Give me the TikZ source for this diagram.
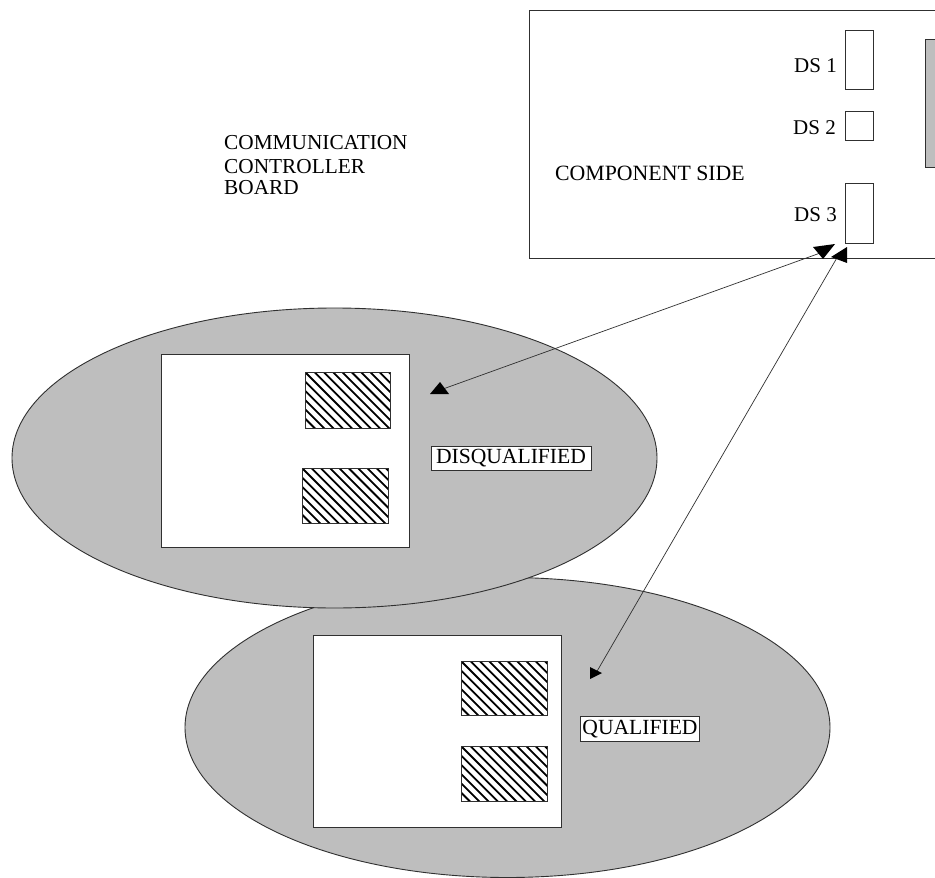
\documentclass[tikz,border=0pt]{standalone}
\usepackage{fontspec}
\setmainfont{Liberation Serif}
\definecolor{blobgray}{HTML}{BEBEBE}
\definecolor{edgegray}{HTML}{303030}
\tikzset{
  outline/.style={draw=edgegray,line width=0.9pt},
  blob/.style={outline,fill=blobgray},
  panel/.style={outline,fill=white},
  hatchline/.style={draw=black,line width=1.8pt},
  label/.style={inner sep=0pt,font=\fontsize{21.5}{21.5}\selectfont,text=black,anchor=base west},
  dslabel/.style={inner sep=0pt,font=\fontsize{21}{21}\selectfont,text=black,anchor=base west},
  boxlabel/.style={draw=edgegray,line width=0.8pt,fill=white,inner xsep=0pt,inner ysep=3pt,font=\fontsize{21.6}{21.6}\selectfont,text=black},
  link/.style={draw=edgegray,line width=0.7pt},
  head/.style={fill=black,draw=none}
}
\newcommand{\hatchbox}[4]{%
  \fill[white] (#1,#2) rectangle (#3,#4);
  \begin{scope}
    \clip (#1,#2) rectangle (#3,#4);
    \foreach \k in {-8,...,16}
      \draw[hatchline] ({#1+\k*9.3},#2) -- ++(70,70);
  \end{scope}
  \draw[outline] (#1,#2) rectangle (#3,#4);
}
\begin{document}
\begin{tikzpicture}[x=1pt,y=-1pt]
\useasboundingbox (0,0) rectangle (935,878);
\clip (0,0) rectangle (935,878);
\fill[white] (0,0) rectangle (935,878);
% board
\draw[outline] (529,10) rectangle (940,258);
\draw[outline,fill=blobgray] (925,39) rectangle (940,167);
\draw[outline] (845,30) rectangle (873,89);
\draw[outline] (845,111) rectangle (873,140);
\draw[outline] (845,183) rectangle (873,243);
\node[dslabel] (ds1) at (794,72) {DS 1};
\node[dslabel] (ds2) at (793,134) {DS 2};
\node[dslabel] (ds3) at (794,221) {DS 3};
\node[label,font=\fontsize{21.8}{21.8}\selectfont] (comp) at (555,180) {COMPONENT SIDE};
\node[label,font=\fontsize{21.3}{21.3}\selectfont] (t1) at (224,149) {COMMUNICATION};
\node[label,font=\fontsize{21.3}{21.3}\selectfont] (t2) at (224,173) {CONTROLLER};
\node[label,font=\fontsize{21.3}{21.3}\selectfont] (t3) at (224,194) {BOARD};
% lower ellipse
\draw[blob] (507.5,727.5) ellipse [x radius=322.5,y radius=150];
\draw[panel] (313,635) rectangle (561,827);
\hatchbox{461}{661}{547}{715}
\hatchbox{461}{746}{547}{801}
\node[boxlabel,minimum width=119pt,minimum height=25pt] (qual) at (640,729) {QUALIFIED};
% upper ellipse
\draw[blob] (334.5,458) ellipse [x radius=322.5,y radius=150];
\draw[panel] (161,354) rectangle (409,547);
\hatchbox{305}{372}{390}{428}
\hatchbox{302}{468}{388}{523}
\node[boxlabel,minimum width=160pt,minimum height=24pt] (disq) at (511,458) {DISQUALIFIED};
% connectors
\coordinate (a1) at (823,252);
\coordinate (a2) at (443,389);
\coordinate (b1) at (838,256);
\coordinate (b2) at (596,673);
\draw[link] (a1) -- (a2);
\draw[link] (b1) -- (b2);
\fill[head] (813,247) -- (835,244) -- (823,259) -- cycle;
\fill[head] (847,247) -- (831,257) -- (847,263) -- cycle;
\fill[head] (440,382) -- (430,394) -- (449,394) -- cycle;
\fill[head] (590,667) -- (590,679) -- (602,673) -- cycle;
\end{tikzpicture}
\end{document}
